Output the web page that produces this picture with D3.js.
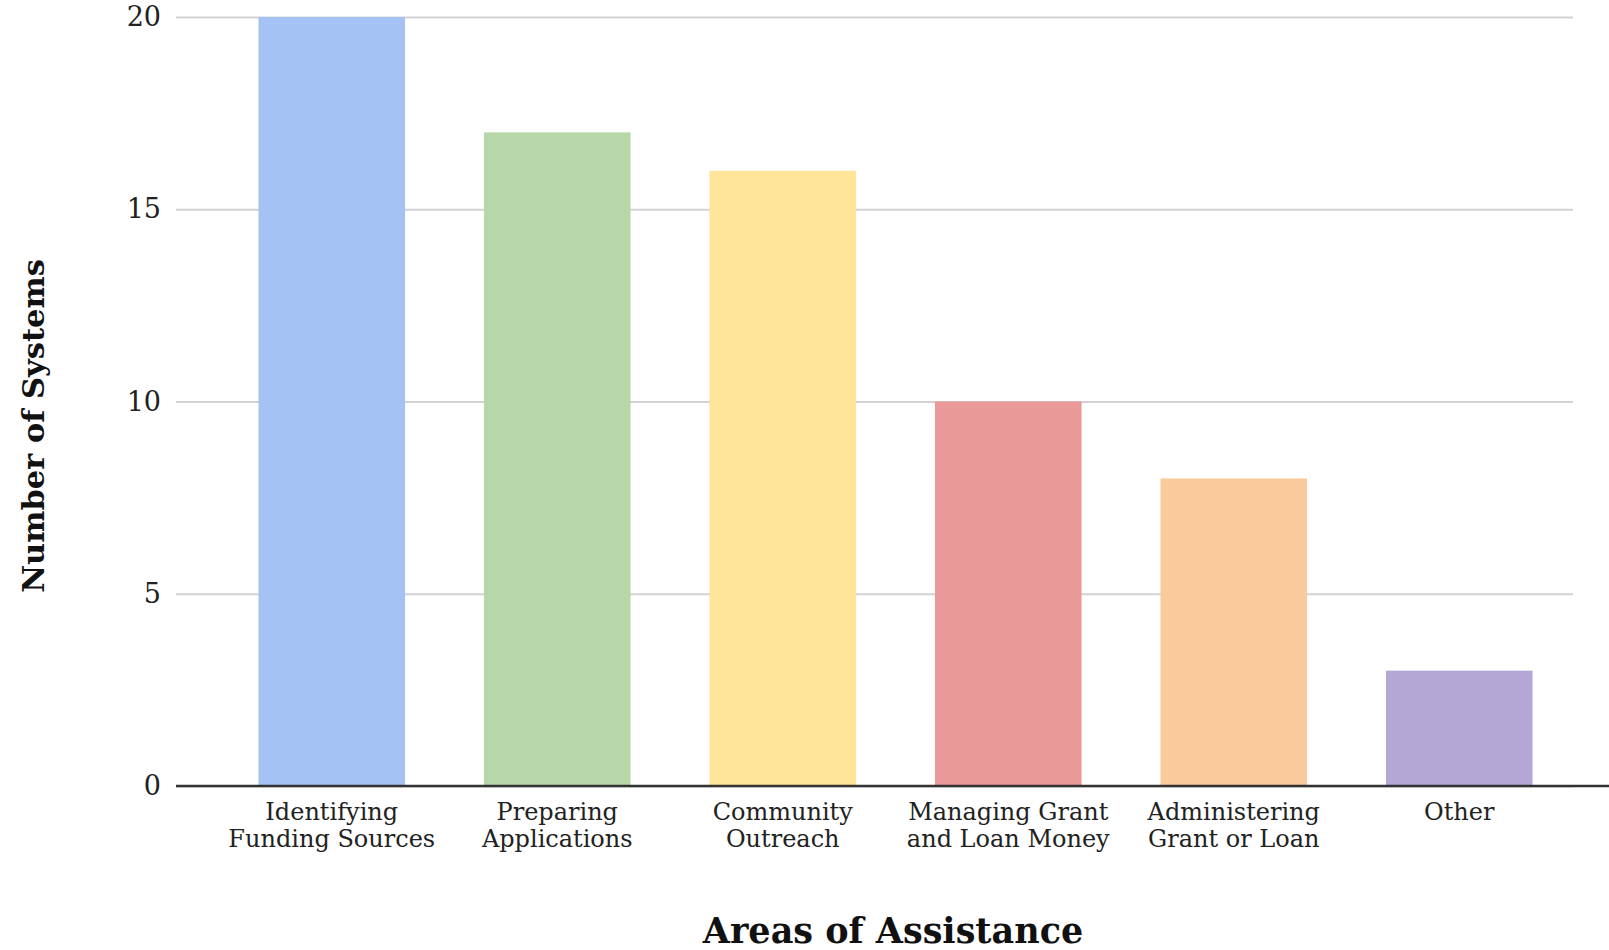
<!DOCTYPE html>
<html>
<head>
<meta charset="utf-8">
<script src="https://cdn.jsdelivr.net/npm/d3@7"></script>
<style>
  body { margin: 0; background: #fff; }
  svg { display: block; }
</style>
</head>
<body>
<div id="chart"></div>
<script>
// data
const categories = ["Identifying Funding Sources", "Preparing Applications", "Community Outreach",
  "Managing Grant and Loan Money", "Administering Grant or Loan", "Other"];
const labelLines = [["Identifying", "Funding Sources"], ["Preparing", "Applications"], ["Community", "Outreach"],
  ["Managing Grant", "and Loan Money"], ["Administering", "Grant or Loan"], ["Other"]];
const values = [20, 17, 16, 10, 8, 3];
const barColors = ["#a4c2f4", "#b6d7a8", "#ffe599", "#ea9999", "#f9cb9c", "#b4a7d6"];
const yTicks = [0, 5, 10, 15, 20];

const width = 1609, height = 950;
const plot = {left: 176, right: 1573, top: 17, bottom: 786};

let svg = d3.select('#chart').append('svg')
  .attr('width', width)
  .attr('height', height);

let x = d3.scaleBand()
  .domain(categories)
  .range([219, 1572])
  .paddingInner(0.35)
  .paddingOuter(0.175);

let y = d3.scaleLinear()
  .domain([0, 20])
  .range([plot.bottom, plot.top]);

// y axis + gridlines
let yAxis = svg.append('g')
  .attr('transform', 'translate(' + plot.left + ',0)')
  .call(d3.axisLeft(y).tickValues(yTicks).tickSize(-(plot.right - plot.left)).tickPadding(15));
yAxis.select('.domain').remove();
yAxis.selectAll('line')
  .style('stroke', '#d2d2d2')
  .style('stroke-width', '2px');
yAxis.selectAll('text')
  .style('font-family', '"DejaVu Serif", serif')
  .style('font-size', '27px')
  .style('fill', '#222');

// bars
svg.append('g').selectAll('rect')
  .data(values)
  .enter().append('rect')
  .attr('x', (d, i) => x(categories[i]))
  .attr('y', d => y(d))
  .attr('width', x.bandwidth())
  .attr('height', d => y(0) - y(d))
  .style('fill', (d, i) => barColors[i]);

// baseline
svg.append('line')
  .attr('x1', plot.left).attr('x2', width)
  .attr('y1', y(0)).attr('y2', y(0))
  .style('stroke', '#333')
  .style('stroke-width', '2.5px');

// category labels (two lines)
let labels = svg.append('g').selectAll('text')
  .data(categories)
  .enter().append('text')
  .attr('text-anchor', 'middle')
  .style('font-family', '"DejaVu Serif", serif')
  .style('font-size', '24px')
  .style('fill', '#222');
labels.each(function(d, i) {
  let t = d3.select(this);
  labelLines[i].forEach(function(line, j) {
    t.append('tspan')
      .attr('x', x(d) + x.bandwidth() / 2)
      .attr('y', 820 + j * 27)
      .text(line);
  });
});

// axis titles
svg.append('text')
  .attr('x', 893)
  .attr('y', 943)
  .attr('text-anchor', 'middle')
  .style('font-family', '"DejaVu Serif", serif')
  .style('font-weight', 'bold')
  .style('font-size', '35px')
  .style('fill', '#111')
  .text('Areas of Assistance');

svg.append('text')
  .attr('transform', 'translate(44,426) rotate(-90)')
  .attr('text-anchor', 'middle')
  .style('font-family', '"DejaVu Serif", serif')
  .style('font-weight', 'bold')
  .style('font-size', '30.5px')
  .style('fill', '#111')
  .text('Number of Systems');
</script>
</body>
</html>
